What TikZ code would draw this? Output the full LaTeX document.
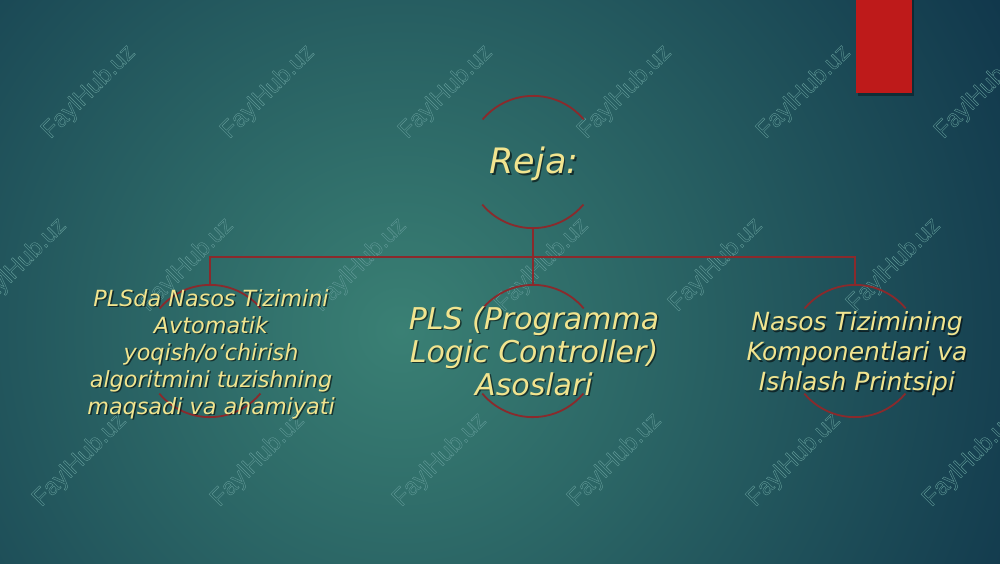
\documentclass[tikz,border=0pt]{standalone}
\usepackage{fontspec}
\setmainfont{DejaVu Sans}
\newfontfamily\wmfont{Liberation Sans}
\definecolor{bgin}{HTML}{3A8074}
\definecolor{bgout}{HTML}{10364B}
\definecolor{linkred}{HTML}{8A2A2C}
\definecolor{txtyellow}{HTML}{F1E48F}
\definecolor{redbar}{HTML}{BE1A1A}
\definecolor{wmcol}{HTML}{5F9896}
\newcommand\outlinetext[1]{\special{pdf:literal direct 1 Tr 0.4 w}#1\special{pdf:literal direct 0 Tr}}
\begin{document}
\begin{tikzpicture}[x=1pt,y=-1pt,
  link/.style={draw=linkred, line width=1.8pt},
  ring/.style={circle, minimum size=132pt, inner sep=0pt, draw=none},
  lbl/.style={text=txtyellow, align=center, inner sep=0pt},
  lblshadow/.style={text=black, text opacity=0.55, align=center, inner sep=0pt},
  wm/.style={text=wmcol, rotate=45, inner sep=0pt, font=\wmfont\fontsize{24}{24}\selectfont},
  fReja/.style={font=\itshape\fontsize{35}{35}\selectfont},
  fMid/.style={font=\itshape\fontsize{30}{33}\selectfont},
  fLeft/.style={font=\itshape\fontsize{22.3}{27}\selectfont},
  fRight/.style={font=\itshape\fontsize{25}{30}\selectfont}
]
\useasboundingbox (0,0) rectangle (1000,563);
% background
\begin{scope}
  \clip (0,0) rectangle (1000,563);
  \fill[bgout] (0,0) rectangle (1000,563);
  \shade[inner color=bgin, outer color=bgout] (400,330) circle (700pt);
\end{scope}
% watermarks
\foreach \x [count=\i] in {89,268,446,625,804,982} {
  \node[wm] (wa\i) at (\x,92) {\outlinetext{FaylHub.uz}};
}
\foreach \x [count=\i] in {20,187,360,542,716,894} {
  \node[wm] (wb\i) at (\x,265) {\outlinetext{FaylHub.uz}};
}
\foreach \x [count=\i] in {80,258,440,615,794,970} {
  \node[wm] (wc\i) at (\x,460) {\outlinetext{FaylHub.uz}};
}
% red bar
\fill[black, opacity=0.35] (858,0) rectangle (914,96);
\fill[redbar] (856,0) rectangle (912,93);
% rings
\node[ring] (r0) at (533,162) {};
\node[ring] (r1) at (210,351) {};
\node[ring] (r2) at (533,351) {};
\node[ring] (r3) at (855,351) {};
\foreach \r in {r0,r1,r2,r3} {
  \draw[link] (\r.40) arc[start angle=40, end angle=140, radius=66pt];
  \draw[link] (\r.220) arc[start angle=220, end angle=320, radius=66pt];
}
% connectors
\draw[link] (r0.south) -- (r2.north);
\draw[link] (r1.north) -- ++(0pt,28pt) -| (r3.north);
% texts (shadow then text)
\node[lblshadow, fReja] (t0s) at (535.5,165.5) {Reja:};
\node[lbl, fReja] (t0) at (534,164) {Reja:};
\node[lblshadow, fLeft] (t1s) at (212.5,355.5) {PLSda Nasos Tizimini\\Avtomatik\\yoqish/o‘chirish\\algoritmini tuzishning\\maqsadi va ahamiyati};
\node[lbl, fLeft] (t1) at (211,354) {PLSda Nasos Tizimini\\Avtomatik\\yoqish/o‘chirish\\algoritmini tuzishning\\maqsadi va ahamiyati};
\node[lblshadow, fMid] (t2s) at (535.5,352.5) {PLS (Programma\\Logic Controller)\\Asoslari};
\node[lbl, fMid] (t2) at (534,351) {PLS (Programma\\Logic Controller)\\Asoslari};
\node[lblshadow, fRight] (t3s) at (858.5,355.5) {Nasos Tizimining\\Komponentlari va\\Ishlash Printsipi};
\node[lbl, fRight] (t3) at (857,354) {Nasos Tizimining\\Komponentlari va\\Ishlash Printsipi};
\end{tikzpicture}
\end{document}
